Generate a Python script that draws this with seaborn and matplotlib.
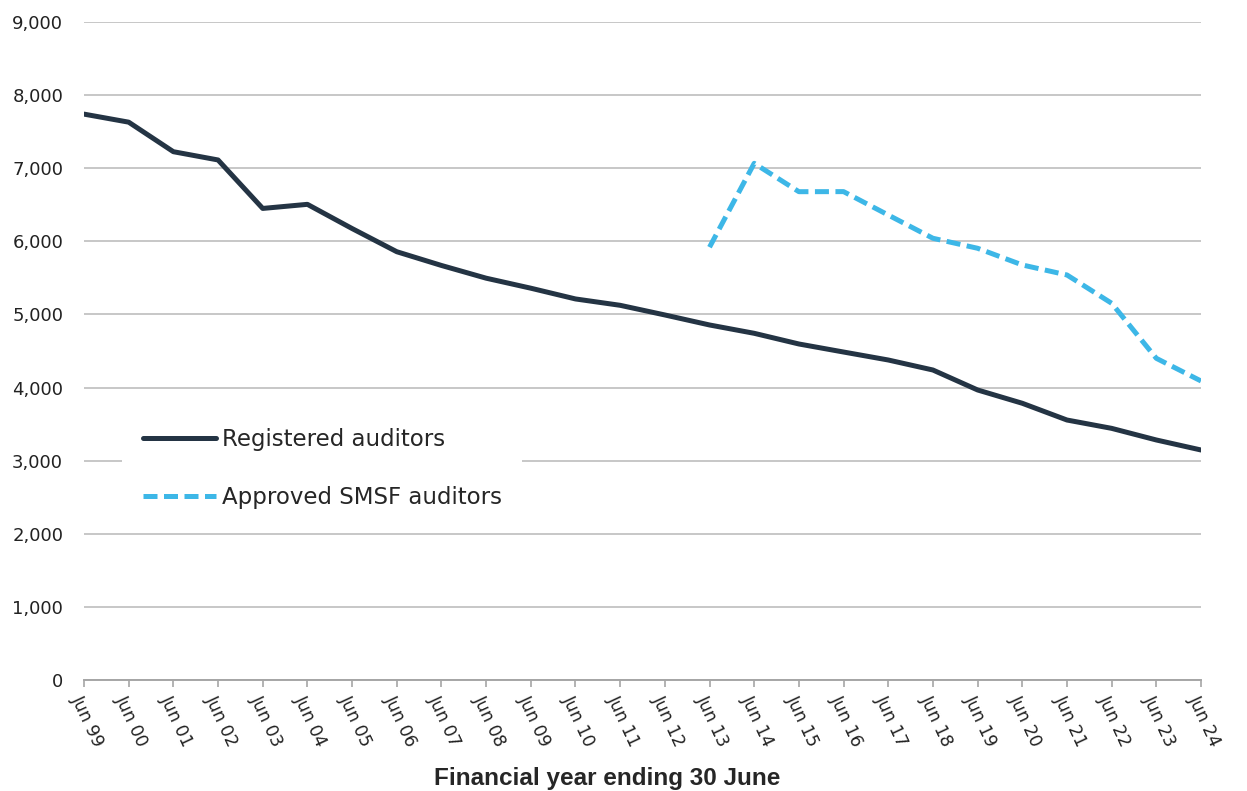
import matplotlib
matplotlib.use("Agg")
import matplotlib.pyplot as plt
import seaborn as sns
import pandas as pd
import numpy as np

sns.set_theme(style="white")
plt.rcParams["font.family"] = ["DejaVu Sans"]

# ── DATA
years = ["Jun 99", "Jun 00", "Jun 01", "Jun 02", "Jun 03", "Jun 04", "Jun 05",
         "Jun 06", "Jun 07", "Jun 08", "Jun 09", "Jun 10", "Jun 11", "Jun 12",
         "Jun 13", "Jun 14", "Jun 15", "Jun 16", "Jun 17", "Jun 18", "Jun 19",
         "Jun 20", "Jun 21", "Jun 22", "Jun 23", "Jun 24"]
registered = [7740, 7630, 7226, 7113, 6450, 6506, 6175, 5858, 5670, 5496, 5359,
              5212, 5125, 4993, 4856, 4742, 4596, 4486, 4377, 4240, 3967, 3785,
              3556, 3442, 3283, 3146]
smsf = [np.nan] * 14 + [5920, 7067, 6679, 6680, 6360, 6042, 5905, 5677, 5540,
                        5153, 4400, 4090]
y_ticks = list(range(0, 9001, 1000))

DARK = "#243444"
BLUE = "#3DB7E7"
GRID = "#BDBDBD"

df = pd.DataFrame({"pos": np.arange(len(years)), "year": years,
                   "Registered auditors": registered,
                   "Approved SMSF auditors": smsf})

fig = plt.figure(figsize=(12.47, 7.91), dpi=100)
ax = fig.add_axes([84 / 1247, 1 - 680 / 791, (1201 - 84) / 1247, (680 - 22) / 791])

sns.lineplot(data=df, x="pos", y="Registered auditors", ax=ax, color=DARK,
             lw=3.6, label="Registered auditors", zorder=4)
sns.lineplot(data=df.dropna(), x="pos", y="Approved SMSF auditors", ax=ax,
             color=BLUE, lw=3.6, linestyle=(0, (2.8, 1.3)),
             label="Approved SMSF auditors", zorder=4)

ax.set_xlim(0, len(years) - 1)
ax.set_ylim(0, 9000)
ax.set_yticks(y_ticks)
ax.set_yticklabels([f"{v:,}" for v in y_ticks], fontsize=13, color="#222222")
ax.set_xticks(df["pos"])
ax.set_xticklabels(years, rotation=-65, ha="left", va="top",
                   rotation_mode="anchor", fontsize=12.5, color="#222222")
ax.tick_params(axis="x", length=5, width=1.2, color="#A6A6A6", direction="out",
               bottom=True, pad=4)
ax.tick_params(axis="y", length=0, pad=15)
ax.grid(axis="y", color=GRID, lw=1.2)
ax.set_axisbelow(True)
for s in ["top", "right", "left"]:
    ax.spines[s].set_visible(False)
ax.spines["bottom"].set_color("#A6A6A6")
ax.spines["bottom"].set_linewidth(1.4)
ax.set_xlabel("")
ax.set_ylabel("")

leg = ax.legend(loc="upper left", bbox_to_anchor=(0.034, 0.414), frameon=True,
                fontsize=16.5, handlelength=3.2, handletextpad=0.25,
                labelspacing=1.53, borderpad=0.9, borderaxespad=0)
leg.get_frame().set_facecolor("white")
leg.get_frame().set_edgecolor("none")
leg.get_frame().set_alpha(1)
leg.get_frame().set_boxstyle("square", pad=0)

fig.text(607 / 1247, 1 - 778 / 791, "Financial year ending 30 June",
         ha="center", va="center", fontsize=17.5, fontweight="bold",
         family=["Liberation Sans", "DejaVu Sans"])

fig.savefig("out.png", dpi=100)
